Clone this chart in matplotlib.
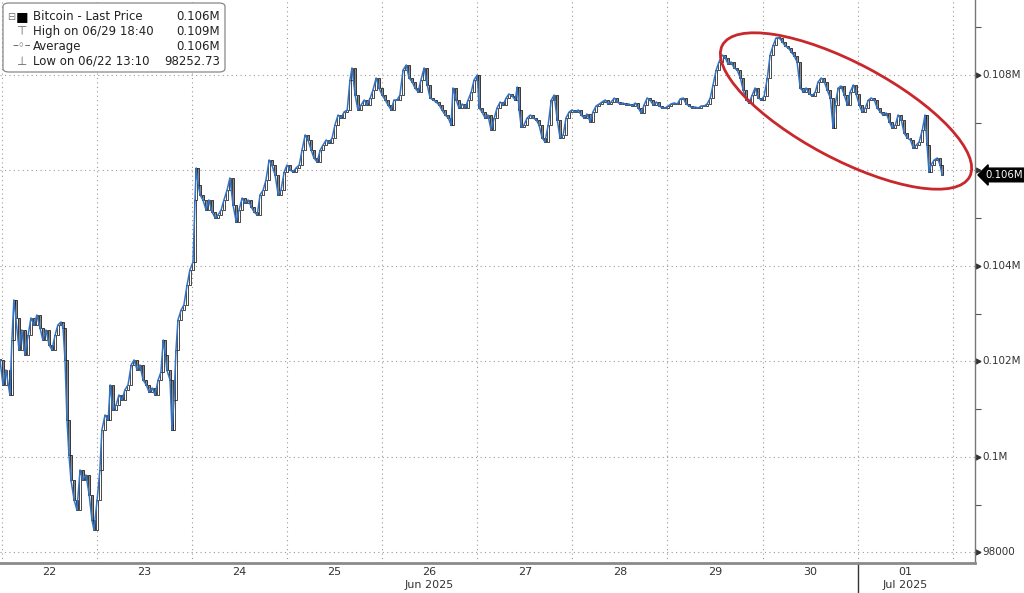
import numpy as np
import matplotlib
matplotlib.use("Agg")
import matplotlib.pyplot as plt
from matplotlib.patches import Ellipse, FancyBboxPatch
from matplotlib.transforms import blended_transform_factory

# hours since 2025-06-22 00:00, price
HOURS = [
    -0.4, 0.35, 1.1, 2.1, 2.6, 3.1, 3.6, 4.4, 5.1, 5.9, 6.7, 7.4, 8.2, 8.9, 9.7, 10.4, 11.2, 12.0,
    12.7, 13.5, 14.2, 15.0, 15.5, 16.0, 16.5, 17.0, 17.5, 18.3, 19.0, 19.8, 20.5, 21.3, 22.1, 22.8,
    23.3, 24.1, 24.8, 25.3, 26.1, 26.9, 27.4, 28.1, 28.9, 29.6, 30.4, 31.1, 31.9, 32.7, 33.4, 34.2,
    34.9, 35.7, 36.5, 37.2, 38.0, 38.7, 39.5, 40.2, 40.8, 41.3, 41.7, 42.5, 43.0, 43.5, 44.0, 44.5,
    45.3, 46.0, 46.8, 47.5, 48.3, 48.8, 49.1, 49.6, 50.1, 50.8, 51.6, 52.3, 53.1, 53.9, 54.6, 55.4,
    56.1, 56.9, 57.6, 58.4, 59.2, 59.9, 60.7, 61.4, 62.2, 63.0, 63.7, 64.5, 65.2, 66.0, 66.7, 67.5,
    68.2, 69.0, 69.8, 70.5, 71.3, 72.0, 72.8, 73.5, 74.3, 75.1, 75.8, 76.6, 77.3, 78.1, 78.8, 79.6,
    80.4, 81.1, 81.9, 82.6, 83.4, 84.1, 84.9, 85.7, 86.4, 87.2, 87.9, 88.4, 89.2, 89.9, 90.7, 91.5,
    92.2, 93.0, 93.7, 94.5, 95.2, 96.0, 96.8, 97.5, 98.3, 99.0, 99.8, 100.5, 101.3, 102.1, 102.8,
    103.6, 104.3, 105.1, 105.8, 106.6, 107.4, 108.1, 108.9, 109.6, 110.4, 111.1, 111.9, 112.7,
    113.4, 113.9, 114.7, 115.4, 116.2, 117.0, 117.7, 118.5, 119.2, 120.0, 120.5, 121.2, 122.0,
    122.7, 123.5, 124.3, 125.0, 125.8, 126.5, 127.3, 128.0, 128.8, 129.6, 130.1, 130.6, 131.1,
    131.8, 132.6, 133.4, 134.1, 134.9, 135.6, 136.4, 137.1, 137.9, 138.7, 139.4, 140.2, 140.9,
    141.7, 142.4, 143.2, 143.9, 144.7, 145.5, 146.2, 147.0, 147.7, 148.5, 149.2, 150.0, 150.8,
    151.5, 152.3, 153.0, 153.8, 154.6, 155.3, 156.1, 156.8, 157.6, 158.3, 159.1, 159.9, 160.6,
    161.4, 162.1, 162.9, 163.6, 164.4, 165.2, 165.9, 166.7, 167.4, 168.2, 168.9, 169.7, 170.5,
    171.2, 172.0, 172.7, 173.5, 174.2, 175.0, 175.8, 176.5, 177.3, 178.0, 178.8, 179.5, 180.3,
    181.0, 181.8, 182.6, 183.3, 184.1, 184.8, 185.6, 186.4, 187.1, 187.9, 188.6, 189.4, 190.1,
    190.9, 191.7, 192.4, 193.2, 193.9, 194.7, 195.4, 196.2, 197.0, 197.7, 198.5, 199.2, 200.0,
    200.7, 201.5, 202.3, 203.0, 203.8, 204.5, 205.3, 206.0, 206.8, 207.6, 208.3, 209.1, 209.8,
    210.3, 211.1, 211.8, 212.6, 213.4, 214.1, 214.9, 215.6, 216.4, 217.1, 217.9, 218.7, 219.4,
    220.2, 220.9, 221.7, 222.4, 223.2, 224.0, 224.7, 225.5, 226.2, 227.0, 227.7, 228.5, 229.3,
    230.0, 230.8, 231.5, 232.3, 233.0, 233.5, 234.0, 234.5, 235.3, 236.1, 236.8, 237.3,
]
PRICES = [
    102032, 101509, 101823, 101299, 102451, 103288, 102911, 102242, 102660, 102137, 102556, 102911,
    102765, 102974, 102702, 102451, 102660, 102346, 102242, 102556, 102765, 102828, 102702, 102032,
    100776, 100043, 99519, 99100, 98891, 99729, 99519, 99624, 99205, 98682, 98473, 99100, 99729,
    100566, 100880, 100776, 101509, 100985, 101090, 101299, 101194, 101404, 101509, 101927, 102032,
    101823, 101927, 101613, 101509, 101362, 101446, 101299, 101613, 101781, 102451, 102137, 101823,
    101613, 100566, 101194, 102242, 102870, 103079, 103184, 103603, 103917, 104084, 105383, 106053,
    105697, 105487, 105383, 105173, 105383, 105131, 105006, 105068, 105173, 105383, 105592, 105843,
    105278, 104922, 105173, 105424, 105320, 105383, 105236, 105131, 105068, 105487, 105592, 105801,
    106220, 106115, 105906, 105487, 105592, 105969, 106115, 106011, 105969, 106053, 106115, 106430,
    106744, 106639, 106430, 106262, 106178, 106430, 106534, 106639, 106576, 106681, 106953, 107162,
    107100, 107225, 107267, 107895, 108147, 107581, 107267, 107372, 107476, 107372, 107518, 107686,
    107937, 107728, 107581, 107476, 107372, 107267, 107476, 107476, 107581, 108105, 108209, 107937,
    107853, 107728, 107644, 107895, 108147, 107791, 107518, 107476, 107435, 107372, 107267, 107162,
    107100, 106953, 107728, 107476, 107309, 107393, 107309, 107476, 107644, 107895, 108000, 107309,
    107225, 107100, 107162, 106848, 107100, 107309, 107435, 107372, 107518, 107602, 107560, 107476,
    107749, 107267, 106911, 106953, 107100, 107162, 107100, 107058, 106953, 106681, 106597, 106953,
    107476, 107581, 107058, 106681, 106744, 107100, 107225, 107267, 107225, 107267, 107162, 107100,
    107183, 107016, 107225, 107351, 107393, 107435, 107476, 107393, 107435, 107518, 107435, 107393,
    107414, 107372, 107393, 107351, 107414, 107309, 107204, 107372, 107518, 107476, 107372, 107435,
    107351, 107309, 107309, 107351, 107393, 107414, 107393, 107497, 107518, 107393, 107351, 107309,
    107330, 107309, 107351, 107351, 107393, 107518, 107791, 108105, 108272, 108419, 108356, 108230,
    108272, 108147, 108105, 107937, 107686, 107476, 107414, 107581, 107728, 107518, 107476, 107560,
    107937, 108419, 108628, 108775, 108775, 108691, 108607, 108565, 108482, 108398, 108272, 107728,
    107644, 107728, 107602, 107560, 107644, 107853, 107937, 107853, 107686, 107518, 106890, 107372,
    107728, 107770, 107581, 107372, 107644, 107791, 107602, 107372, 107225, 107309, 107476, 107518,
    107476, 107309, 107225, 107162, 107204, 107016, 106890, 106953, 107162, 107058, 106786, 106681,
    106639, 106472, 106534, 106597, 106848, 107162, 106534, 105969, 106115, 106220, 106262, 106115,
    105906,
]

DAY_LABELS = ["22", "23", "24", "25", "26", "27", "28", "29", "30", "01"]
MONTH_LABELS = {"26": "Jun 2025", "01": "Jul 2025"}
Y_TICKS = [98000, 100000, 102000, 104000, 106000, 108000]
Y_TICK_LABELS = ["98000", "0.1M", "0.102M", "0.104M", "0.106M", "0.108M"]
LAST_LABEL = "0.106M"
LEGEND_ROWS = [
    ("Bitcoin - Last Price", "0.106M"),
    ("High on 06/29 18:40", "0.109M"),
    ("Average", "0.106M"),
    ("Low on 06/22 13:10", "98252.73"),
]

BLUE = "#3473c4"
GRID = "#9a9a9a"
TXT = "#333333"

fig = plt.figure(figsize=(10.24, 5.93), dpi=100)
ax = fig.add_axes([0.0, 30 / 593, 975 / 1024, 563 / 593])

hours = np.array(HOURS)
prices = np.array(PRICES)
# candle bodies: each one runs from the previous close to this close
opens = np.concatenate([[prices[0]], prices[:-1]])
lo = np.minimum(opens, prices)
hi = np.maximum(opens, prices)
height = np.maximum(hi - lo, 25)
faces = np.where(prices >= opens, "white", "#8c8c8c")
ax.bar(hours, height, bottom=lo, width=0.45, color=faces, edgecolor="black",
       linewidth=0.5, zorder=3)
ax.plot(hours, prices, color=BLUE, lw=1.1, zorder=4)

ax.set_xlim(-0.4, 245.6)
ax.set_ylim(97780, 109570)

# grid
for d in range(len(DAY_LABELS) + 1):
    ax.axvline(d * 24, color=GRID, lw=0.8, ls=(0, (1, 3)), zorder=1)
for yv in Y_TICKS:
    ax.axhline(yv, color=GRID, lw=0.8, ls=(0, (1, 3)), zorder=1)

for s in ["top", "left"]:
    ax.spines[s].set_visible(False)
ax.spines["right"].set_color("#777777")
ax.spines["right"].set_linewidth(1.0)
ax.spines["bottom"].set_color("#8a8a8a")
ax.spines["bottom"].set_linewidth(2.0)

ax.set_xticks([])
ax.yaxis.tick_right()
ax.set_yticks(Y_TICKS)
ax.set_yticklabels([])
ax.tick_params(axis="y", which="major", length=0)
ax.set_yticks(np.arange(99000, 110000, 2000), minor=True)
ax.tick_params(axis="y", which="minor", length=4, width=0.8, color="#555555", direction="out")

ytr = blended_transform_factory(ax.transAxes, ax.transData)
for yv, lab in zip(Y_TICKS, Y_TICK_LABELS):
    ax.plot([1.003], [yv], marker=">", ms=3.5, color=TXT, transform=ytr, clip_on=False)
    if lab == LAST_LABEL:
        continue
    ax.text(1.008, yv, lab, transform=ytr, fontsize=7.5, color=TXT,
            va="center", ha="left")

# last price tag
ax.text(1.0105, prices[-1], LAST_LABEL, transform=ytr, fontsize=7.3, color="white",
        va="center", ha="left",
        bbox=dict(boxstyle="larrow,pad=0.18", fc="black", ec="black"))

# x labels
xtr = blended_transform_factory(ax.transData, ax.transAxes)
for i, lab in enumerate(DAY_LABELS):
    ax.text(i * 24 + 12, -9 / 563, lab, transform=xtr, ha="center", va="center",
            fontsize=8, color=TXT)
    if lab in MONTH_LABELS:
        ax.text(i * 24 + 12, -22 / 563, MONTH_LABELS[lab], transform=xtr, ha="center",
                va="center", fontsize=8, color=TXT)
ax.plot([216, 216], [0, -0.06], color=TXT, lw=1.0, transform=xtr, clip_on=False)

# legend box
box = FancyBboxPatch((3 / 1024, 1 - 72 / 593), 222 / 1024, 69 / 593,
                     boxstyle="round,pad=0,rounding_size=0.006",
                     transform=fig.transFigure, fc="white", ec="#888888", lw=0.9, zorder=10)
fig.patches.append(box)
icons = ["\u25a0", "\u22a4", "\u2013\u25e6\u2013", "\u22a5"]
for i, ((name, val), ic) in enumerate(zip(LEGEND_ROWS, icons)):
    yy = 1 - (17 + i * 14.7) / 593
    fig.text(22 / 1024, yy, ic, fontsize=8.5 if i else 9.5, color="black" if i == 0 else "#666666",
             ha="center", va="center", zorder=11)
    fig.text(33 / 1024, yy, name, fontsize=8.5, color="#222222", ha="left", va="center", zorder=11)
    fig.text(220 / 1024, yy, val, fontsize=8.5, color="#222222", ha="right", va="center", zorder=11)
fig.text(11 / 1024, 1 - 17 / 593, "\u229f", fontsize=7, color="#777777", ha="center",
         va="center", zorder=11)
fig.lines.append(plt.Line2D([11 / 1024, 11 / 1024], [1 - 22 / 593, 1 - 62 / 593],
                            transform=fig.transFigure, color="#999999", lw=0.7, ls=":"))

# highlight ellipse
ell = Ellipse((8.46, (593 - 111) / 100), 2.8, 0.96, angle=-28,
              transform=fig.dpi_scale_trans, fill=False, ec="#c8282c", lw=2.0, zorder=12)
fig.patches.append(ell)

fig.savefig("out.png", dpi=100)
